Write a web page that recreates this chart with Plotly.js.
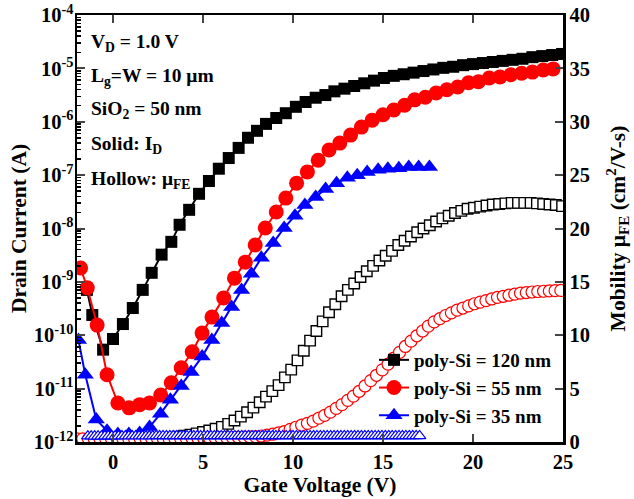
<!DOCTYPE html>
<html>
<head>
<meta charset="utf-8">
<script src="https://cdn.plot.ly/plotly-3.0.1.min.js"></script>
<style>html,body{margin:0;padding:0;background:#fff}</style>
</head>
<body>
<div id="chart" style="width:634px;height:499px"></div>
<script>
// ---- Drain current (log10 of A) vs gate voltage (V) ----
const vg120 = [-1.45,-1.15,-0.55,0,0.55,1.1,1.65,2.15,2.7,3.24,3.7,4.23,4.78,5.33,5.88,6.43,6.98,7.5,8.0,8.5,9.07,9.6,10.16,10.7,11.26,11.8,12.3,12.86,13.4,13.96,14.5,15.05,15.6,16.15,16.7,17.25,17.8,18.35,18.9,19.45,20.0,20.55,21.1,21.65,22.2,22.75,23.3,23.85,24.4,24.95];
const logId120 = [-9.15,-9.62,-10.27,-10.07,-9.79,-9.49,-9.15,-8.83,-8.49,-8.25,-7.93,-7.65,-7.35,-7.11,-6.88,-6.68,-6.49,-6.30,-6.17,-6.04,-5.93,-5.84,-5.72,-5.63,-5.55,-5.50,-5.43,-5.38,-5.33,-5.28,-5.23,-5.18,-5.14,-5.11,-5.08,-5.05,-5.02,-4.99,-4.97,-4.94,-4.92,-4.90,-4.88,-4.86,-4.84,-4.82,-4.79,-4.77,-4.75,-4.73];

const vg55 = [-1.8,-1.43,-0.88,-0.33,0.27,0.9,1.48,2.03,2.65,3.24,3.79,4.4,4.95,5.5,6.15,6.75,7.35,7.9,8.46,9.07,9.6,10.2,10.8,11.4,12.0,12.6,13.2,13.8,14.4,15.0,15.6,16.2,16.76,17.35,17.95,18.55,19.15,19.75,20.3,20.9,21.5,22.1,22.7,23.3,23.9,24.45];
const logId55 = [-8.74,-9.11,-9.81,-10.74,-11.27,-11.36,-11.30,-11.27,-11.12,-10.89,-10.61,-10.31,-9.96,-9.66,-9.30,-8.93,-8.63,-8.31,-7.99,-7.69,-7.43,-7.15,-6.94,-6.72,-6.53,-6.40,-6.25,-6.10,-5.97,-5.87,-5.78,-5.69,-5.59,-5.54,-5.46,-5.40,-5.35,-5.27,-5.25,-5.18,-5.16,-5.12,-5.09,-5.07,-5.03,-5.01];

const vg35 = [-1.92,-1.54,-0.93,-0.33,0.27,0.88,1.48,2.03,2.64,3.19,3.79,4.34,4.95,5.49,6.04,6.59,7.14,7.69,8.24,8.9,9.51,10.11,10.66,11.26,11.81,12.42,13.02,13.57,14.12,14.73,15.27,15.88,16.43,16.98,17.58];
const logId35 = [-10.09,-10.74,-11.58,-11.79,-11.85,-11.85,-11.83,-11.72,-11.47,-11.21,-10.95,-10.69,-10.40,-10.09,-9.77,-9.47,-9.15,-8.85,-8.55,-8.27,-7.99,-7.76,-7.56,-7.41,-7.26,-7.15,-7.05,-7.00,-6.94,-6.90,-6.88,-6.87,-6.85,-6.85,-6.85];

// ---- Field-effect mobility (cm2/V-s) vs gate voltage (V) ----
const vgMu120 = [-2.00,-1.65,-1.30,-0.95,-0.60,-0.25,0.10,0.45,0.80,1.15,1.50,1.85,2.20,2.55,2.90,3.25,3.60,3.95,4.30,4.65,5.00,5.35,5.70,6.05,6.40,6.75,7.10,7.45,7.80,8.15,8.50,8.85,9.20,9.55,9.90,10.25,10.60,10.95,11.30,11.65,12.00,12.35,12.70,13.05,13.40,13.75,14.10,14.45,14.80,15.15,15.50,15.85,16.20,16.55,16.90,17.25,17.60,17.95,18.30,18.65,19.00,19.35,19.70,20.05,20.40,20.75,21.10,21.45,21.80,22.15,22.50,22.85,23.20,23.55,23.90,24.25,24.60,24.95];
const mu120 = [0.10,0.10,0.10,0.10,0.10,0.11,0.11,0.12,0.13,0.14,0.16,0.19,0.23,0.28,0.34,0.41,0.49,0.58,0.69,0.81,0.94,1.08,1.24,1.42,1.70,2.02,2.38,2.78,3.22,3.72,4.25,4.77,5.33,6.05,6.78,7.65,8.55,9.50,10.40,11.30,12.15,12.90,13.65,14.25,14.85,15.45,16.00,16.50,17.00,17.45,17.90,18.45,18.85,19.25,19.65,20.00,20.30,20.65,20.95,21.20,21.45,21.65,21.85,21.95,22.05,22.15,22.25,22.30,22.35,22.40,22.40,22.40,22.40,22.35,22.30,22.25,22.20,22.10];

const vgMu55 = [-2.00,-1.68,-1.36,-1.04,-0.72,-0.40,-0.08,0.24,0.56,0.88,1.20,1.52,1.84,2.16,2.48,2.80,3.12,3.44,3.76,4.08,4.40,4.72,5.04,5.36,5.68,6.00,6.32,6.64,6.96,7.28,7.60,7.92,8.24,8.56,8.88,9.20,9.52,9.84,10.16,10.48,10.80,11.12,11.44,11.76,12.08,12.40,12.72,13.04,13.36,13.68,14.00,14.32,14.64,14.96,15.28,15.60,15.92,16.24,16.56,16.88,17.20,17.52,17.84,18.16,18.48,18.80,19.12,19.44,19.76,20.08,20.40,20.72,21.04,21.36,21.68,22.00,22.32,22.64,22.96,23.28,23.60,23.92,24.24,24.56,24.88];
const mu55 = [0.30,0.30,0.30,0.30,0.30,0.30,0.30,0.30,0.30,0.30,0.30,0.30,0.30,0.30,0.30,0.30,0.31,0.32,0.33,0.33,0.34,0.35,0.36,0.37,0.38,0.39,0.40,0.42,0.44,0.46,0.48,0.50,0.56,0.64,0.73,0.85,0.98,1.18,1.38,1.58,1.75,1.95,2.23,2.50,2.80,3.15,3.50,3.90,4.30,4.75,5.25,5.75,6.25,6.75,7.30,7.85,8.40,8.95,9.45,9.95,10.40,10.85,11.25,11.55,11.85,12.10,12.35,12.55,12.75,12.95,13.10,13.25,13.40,13.55,13.65,13.75,13.85,13.95,14.00,14.05,14.10,14.12,14.15,14.18,14.20];

const vgMu35 = [-1.40,-1.21,-1.02,-0.83,-0.64,-0.45,-0.26,-0.07,0.12,0.31,0.50,0.69,0.88,1.07,1.26,1.45,1.64,1.83,2.02,2.21,2.40,2.59,2.78,2.97,3.16,3.35,3.54,3.73,3.92,4.11,4.30,4.49,4.68,4.87,5.06,5.25,5.44,5.63,5.82,6.01,6.20,6.39,6.58,6.77,6.96,7.15,7.34,7.53,7.72,7.91,8.10,8.29,8.48,8.67,8.86,9.05,9.24,9.43,9.62,9.81,10.00,10.19,10.38,10.57,10.76,10.95,11.14,11.33,11.52,11.71,11.90,12.09,12.28,12.47,12.66,12.85,13.04,13.23,13.42,13.61,13.80,13.99,14.18,14.37,14.56,14.75,14.94,15.13,15.32,15.51,15.70,15.89,16.08,16.27,16.46,16.65,16.84,17.03];
const mu35 = [0.55,0.55,0.54,0.54,0.54,0.55,0.55,0.55,0.55,0.56,0.56,0.56,0.56,0.56,0.56,0.56,0.56,0.56,0.56,0.56,0.57,0.57,0.57,0.57,0.57,0.57,0.57,0.57,0.57,0.57,0.57,0.57,0.57,0.57,0.57,0.57,0.57,0.57,0.57,0.57,0.57,0.57,0.57,0.57,0.57,0.57,0.57,0.57,0.57,0.57,0.57,0.57,0.57,0.57,0.57,0.57,0.57,0.57,0.57,0.57,0.57,0.57,0.57,0.57,0.57,0.57,0.57,0.57,0.57,0.57,0.57,0.57,0.57,0.57,0.57,0.57,0.57,0.57,0.57,0.57,0.57,0.57,0.57,0.57,0.57,0.57,0.57,0.57,0.57,0.57,0.57,0.57,0.57,0.57,0.57,0.57,0.57,0.57];

const seriesNames = ['poly-Si = 120 nm','poly-Si = 55 nm','poly-Si = 35 nm'];
const decadeExps = [-12,-11,-10,-9,-8,-7,-6,-5,-4];

const toA = a => a.map(v => Math.pow(10, v));

const traces = [
  {x: vgMu120, y: mu120, yaxis:'y2', mode:'markers', showlegend:false,
   marker:{symbol:'square', size:10.5, color:'#fff', line:{color:'#000', width:1.4}}},
  {x: vgMu55, y: mu55, yaxis:'y2', mode:'markers', showlegend:false,
   marker:{symbol:'circle', size:12, color:'#fff', line:{color:'#f00', width:1.2}}},
  {x: vgMu35, y: mu35, yaxis:'y2', mode:'markers', showlegend:false,
   marker:{symbol:'triangle-up', size:11, color:'#fff', line:{color:'#00f', width:1.2}}},
  {x: vg120, y: toA(logId120), name: seriesNames[0], mode:'lines+markers', legendgroup:'a',
   line:{color:'#000', width:2}, marker:{symbol:'square', size:12, color:'#000'}},
  {x: vg55, y: toA(logId55), name: seriesNames[1], mode:'lines+markers', legendgroup:'b',
   line:{color:'#f00', width:2}, marker:{symbol:'circle', size:15, color:'#f00'}},
  {x: vg35, y: toA(logId35), name: seriesNames[2], mode:'lines+markers', legendgroup:'c',
   line:{color:'#00f', width:2}, marker:{symbol:'triangle-up', size:15, color:'#00f'}}
];

const minorVals = [];
for (let e = -12; e < -4; e++) for (let m = 2; m <= 9; m++) minorVals.push(m * Math.pow(10, e));

const FONT = '"Liberation Serif", "Times New Roman", serif';
const annFont = {family: FONT, size: 19.5, color:'#000', weight:'bold'};
const annTexts = ['V<sub>D</sub> = 1.0 V','L<sub>g</sub>=W = 10 μm','SiO<sub>2</sub> = 50 nm','Solid: I<sub>D</sub>','Hollow: μ<sub>FE</sub>'];
const annY = [43, 77, 110, 145, 180];
const annotations = annTexts.map((t, i) => ({
  text: t, xref:'paper', yref:'paper', x: (89-77)/486, y: (442-annY[i])/427,
  xanchor:'left', yanchor:'middle', showarrow:false, font: annFont
}));

const tickFont = {family: FONT, size:20.5, weight:'bold', color:'#000'};
const titleFont = {family: FONT, size:21.5, weight:'bold', color:'#000'};

const layout = {
  width:634, height:499,
  margin:{l:77, r:71, t:15, b:57},
  paper_bgcolor:'#fff', plot_bgcolor:'#fff',
  font:{family: FONT, size:18, color:'#000', weight:'bold'},
  showlegend:true,
  legend:{x:(374-77)/486, y:(442-341)/427, xanchor:'left', yanchor:'top', bgcolor:'rgba(0,0,0,0)',
          font:{family: FONT, size:19, weight:'bold'}, tracegroupgap:0},
  annotations: annotations,
  xaxis:{range:[-2,25], tickvals:[0,5,10,15,20,25], ticks:'inside', ticklen:8, tickwidth:2,
         showline:true, linewidth:2.5, linecolor:'#000', mirror:'ticks', showgrid:false, zeroline:false,
         tickfont: tickFont,
         title:{text:'Gate Voltage (V)', font: titleFont, standoff:4}},
  yaxis:{type:'log', range:[-12,-4], tickvals: decadeExps.map(e => Math.pow(10, e)),
         ticktext: decadeExps.map(e => '10<sup>' + e + '</sup>'),
         ticks:'inside', ticklen:8, tickwidth:2, showline:true, linewidth:2.5, linecolor:'#000',
         showgrid:false, zeroline:false, tickfont: tickFont, ticklabelstandoff:-3,
         minor:{ticks:'inside', ticklen:4, tickwidth:1.5, tickcolor:'#000', tickmode:'array', tickvals: minorVals, showgrid:false},
         title:{text:'Drain Current (A)', font: titleFont, standoff:2}},
  yaxis2:{overlaying:'y', side:'right', range:[0,40], dtick:5, ticks:'inside', ticklen:8, tickwidth:2,
          showline:true, linewidth:2.5, linecolor:'#000', showgrid:false, zeroline:false,
          tickfont: tickFont,
          title:{text:'Mobility μ<sub>FE</sub> (cm<sup>2</sup>/V-s)', font: titleFont, standoff:21}}
};

Plotly.newPlot('chart', traces, layout, {displayModeBar:false, staticPlot:true});
</script>
</body>
</html>
